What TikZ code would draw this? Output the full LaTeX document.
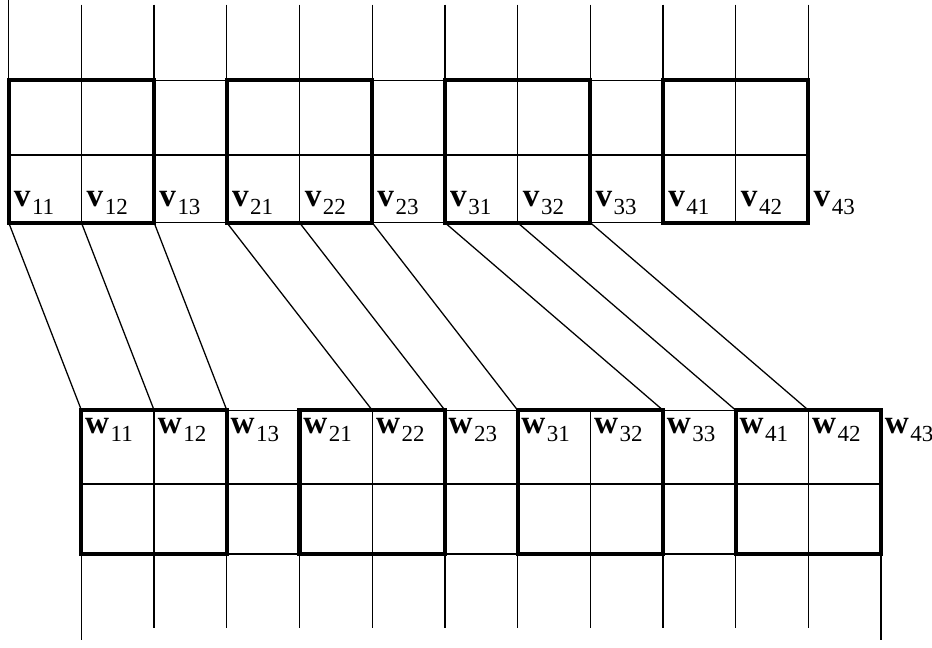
\documentclass[tikz,border=0pt]{standalone}
\usepackage{fontspec}
\setmainfont{Liberation Serif}
\usepackage{tikz}
\usetikzlibrary{positioning}
\newcommand\indice[1]{\raisebox{-3.2pt}{\fontsize{9}{10}\selectfont #1}}

\begin{document}
\begin{tikzpicture}[
  fino/.style={line width=0.5pt},
  grueso/.style={line width=1.6pt},
  etiq/.style={anchor=base west, inner sep=0pt,
               font=\fontsize{13}{15}\selectfont},
]
\useasboundingbox (-0.12,0) rectangle (12.70,8.913);
% ---- Rejilla superior ------------------------------------------------------
\foreach \k in {0,...,11} {
  \coordinate (t\k) at (\k,5.85);
  \draw[fino] (\k,8.85) -- (t\k);
}
\draw[fino] (0,8.913) -- (0,8.85);
\foreach \y in {7.81,6.78,5.85} {
  \draw[fino] (0,\y) -- (11,\y);
}
\foreach \g in {0,3,6,9} {
  \draw[grueso] (\g,5.85) rectangle (\g+2,7.81);
}
\foreach \lab [count=\i from 0] in {11,12,13,21,22,23,31,32,33,41,42,43} {
  \node[etiq] (v\lab) at (\i+0.065,6.07) {\textbf{v}\kern0.6pt\indice{\lab}};
}
% ---- Rejilla inferior ------------------------------------------------------
\foreach \k in {1,...,12} {
  \coordinate (b\k) at (\k,3.27);
  \draw[fino] (b\k) -- (\k,0.275);
}
\draw[fino] (1,0.275) -- (1,0.11);
\draw[fino] (12,0.275) -- (12,0.11);
\foreach \y in {3.27,2.256,1.293} {
  \draw[fino] (1,\y) -- (12,\y);
}
\foreach \g in {1,4,7,10} {
  \draw[grueso] (\g,1.293) rectangle (\g+2,3.27);
}
\foreach \lab [count=\i from 1] in {11,12,13,21,22,23,31,32,33,41,42,43} {
  \node[etiq] (w\lab) at (\i+0.045,2.95) {\textbf{w}\kern0.6pt\indice{\lab}};
}
% ---- Enlaces ---------------------------------------------------------------
\foreach \a/\b in {0/1,1/2,2/3,3/5,4/6,5/7,6/9,7/10,8/11} {
  \draw[fino] (t\a) -- (b\b);
}
\end{tikzpicture}
\end{document}
